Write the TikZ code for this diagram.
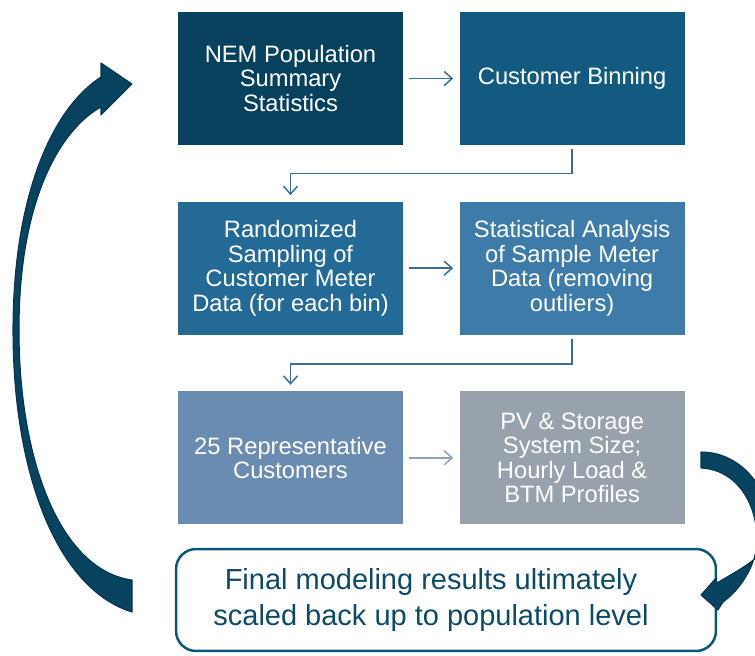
\documentclass[tikz,border=0pt]{standalone}
\usepackage{fontspec}
\setmainfont{Liberation Sans}
\usepackage{xcolor}
\usetikzlibrary{positioning,arrows.meta}

\definecolor{stepA}{HTML}{07415D}
\definecolor{stepB}{HTML}{135A80}
\definecolor{stepC}{HTML}{236A97}
\definecolor{stepD}{HTML}{3F7BA9}
\definecolor{stepE}{HTML}{6A8CB0}
\definecolor{stepF}{HTML}{98A2AC}
\definecolor{linkblue}{HTML}{3A6F96}
\definecolor{linkgrey}{HTML}{8FA4B8}
\definecolor{loopfill}{HTML}{07425E}
\definecolor{loopedge}{HTML}{053650}
\definecolor{resultblue}{HTML}{0E5677}
\definecolor{resulttext}{HTML}{0D4A69}

\tikzset{
  stage/.style={rectangle, minimum width=4.5cm, minimum height=2.66cm, inner sep=0pt,
    align=center, text=white, font=\fontsize{13.5}{14}\selectfont},
  link/.style={line width=0.85pt, -{Straight Barb[length=4.5pt,width=8pt]}},
  loop/.style={fill=loopfill, draw=loopedge, line width=0.6pt, line join=round},
}

\begin{document}
\begin{tikzpicture}[x=0.02cm, y=-0.02cm]

    \useasboundingbox (0,0) rectangle (755,656);

    % Nodes
    \node[stage, fill=stepA] (nem) at (290.5,78.5) {NEM Population\\Summary\\Statistics};
    \node[stage, fill=stepB, right=1.12cm of nem] (binning) {Customer Binning};
    \node[stage, fill=stepC, below=1.12cm of nem] (sampling) {Randomized\\Sampling of\\Customer Meter\\Data (for each bin)};
    \node[stage, fill=stepD, right=1.12cm of sampling] (stats) {Statistical Analysis\\of Sample Meter\\Data (removing\\outliers)};
    \node[stage, fill=stepE, below=1.12cm of sampling] (reps) {25 Representative\\Customers};
    \node[stage, fill=stepF, right=1.12cm of reps] (profiles) {PV \& Storage\\System Size;\\Hourly Load \&\\BTM Profiles};

    \node[rectangle, rounded corners=0.4cm, draw=resultblue, line width=0.05cm, fill=white,
      minimum width=10.8cm, minimum height=2.04cm,
      label={[xshift=-0.3cm, align=center, text=resulttext, font=\fontsize{16.5}{20}\selectfont]center:Final modeling results ultimately\\scaled back up to population level}]
      (final) at (446,600) {};

    % Connectors
    \draw[link, draw=linkblue, shorten <=3pt, shorten >=3.5pt] (nem) -- (binning);
    \draw[link, draw=linkblue, shorten <=2pt, shorten >=3.5pt] (binning.south) -- ++(0,28) -| (sampling.north);
    \draw[link, draw=linkblue, shorten <=3pt, shorten >=3.5pt] (sampling) -- (stats);
    \draw[link, draw=linkblue, shorten <=2pt, shorten >=3.5pt] (stats.south) -- ++(0,29) -| (reps.north);
    \draw[link, draw=linkgrey, shorten <=3pt, shorten >=3.5pt] (reps) -- (profiles);

    % Loop arrows
    \fill[loop] (132,612) -- (132,580)
      .. controls (60,570) and (19,460) .. (19,330)
      .. controls (19,200) and (60,130) .. (101,107)
      -- (101,115) -- (132,84) -- (101,63) -- (101,77)
      .. controls (50,110) and (13,200) .. (13,330)
      .. controls (13,480) and (60,590) .. (132,612) -- cycle;

    \begin{scope}
      \clip (0,0) rectangle (755,656);
      \fill[loop] (701,452) .. controls (745,452) and (772,495) .. (772,532)
        .. controls (771,555) and (736,571) .. (717,583)
        -- (716,578) -- (701,595) -- (718,610) -- (723,602)
        .. controls (740,590) and (757,565) .. (757,540)
        .. controls (757,505) and (738,470) .. (701,468) -- cycle;
    \end{scope}

\end{tikzpicture}
\end{document}
